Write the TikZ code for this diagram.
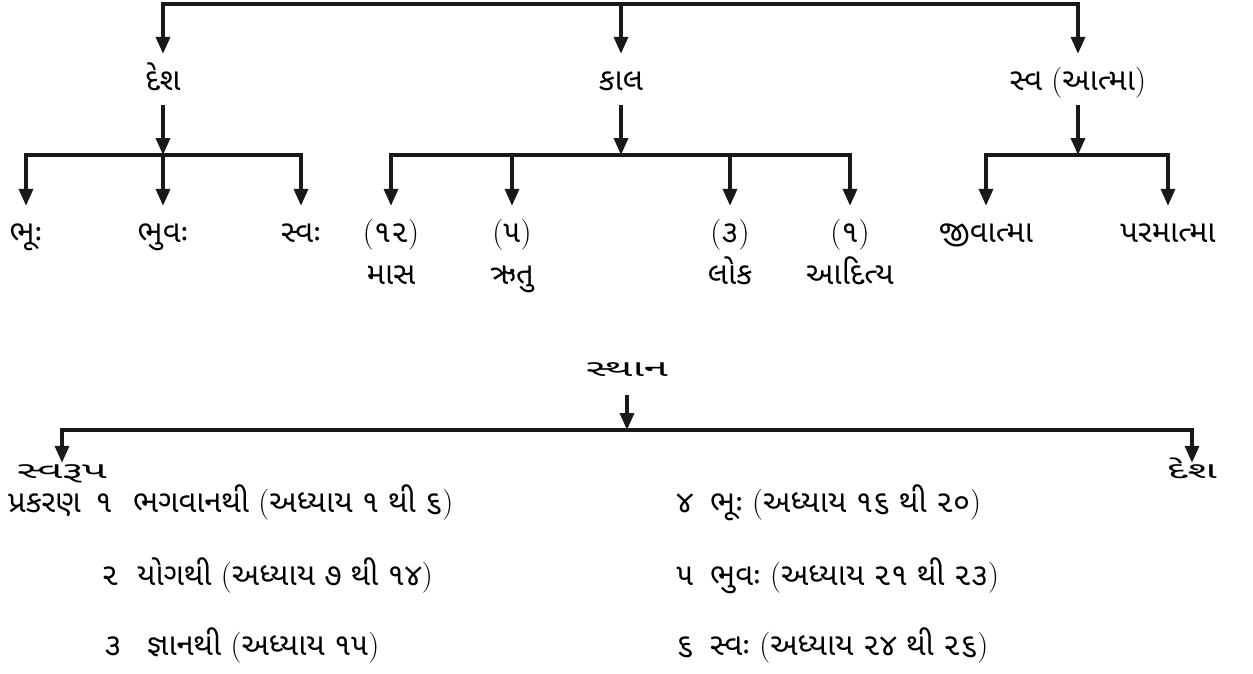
\documentclass[tikz,border=0pt]{standalone}
\usepackage{fontspec}
\newfontfamily\guj[Script=Gujarati]{Noto Sans Gujarati UI}
\newfontfamily\gujwide[Script=Gujarati,FakeStretch=1.9]{Noto Sans Gujarati UI}
\usetikzlibrary{arrows.meta}
\newcommand\lp{{\rmfamily(}}
\newcommand\rp{{\rmfamily)}}
\begin{document}
\begin{tikzpicture}[x=1pt,y=-1pt,
  conn/.style={line width=3.5pt, draw=black!90},
  arr/.style={conn, -{Triangle[length=17pt,width=14pt]}},
  gfont/.style={font=\guj\fontsize{31}{36}\selectfont, text height=19pt, text depth=5pt},
  lbl/.style={gfont, inner xsep=2pt, inner ysep=17pt},
  sub/.style={gfont, inner sep=0pt},
  small/.style={font=\gujwide\fontsize{23}{28}\selectfont, text height=13pt, text depth=4pt, inner xsep=1pt, inner ysep=2.5pt},
  row/.style={gfont, inner sep=0pt, anchor=west},
  num/.style={gfont, inner sep=0pt}
]
\useasboundingbox (0,0) rectangle (1253,673);

% level 1
\coordinate (top) at (621,4);
\node[lbl] (desh) at (163,83) {દેશ};
\node[lbl] (kal) at (621,83) {કાલ};
\node[lbl] (sva) at (1078,83) {સ્વ \lp{}આત્મા\rp{}};
\draw[arr] (top) -| (desh.north);
\draw[arr] (top) -| (sva.north);
\draw[arr] (top) -- (kal.north);

% level 2 junctions
\coordinate (dj) at (163,155);
\coordinate (kj) at (621,155);
\coordinate (sj) at (1078,155);
\draw[arr, shorten <=-7pt] (desh.south) -- (dj);
\draw[arr, shorten <=-7pt] (kal.south) -- (kj);
\draw[arr, shorten <=-7pt] (sva.south) -- (sj);

% children
\node[lbl] (bhu) at (26,235) {ભૂઃ};
\node[lbl] (bhuv) at (163,235) {ભુવઃ};
\node[lbl] (svah) at (301,235) {સ્વઃ};
\node[lbl] (n12) at (391,235) {\lp{}૧૨\rp{}};
\node[lbl] (n5) at (512,235) {\lp{}૫\rp{}};
\node[lbl] (n3) at (730,235) {\lp{}૩\rp{}};
\node[lbl] (n1) at (850,235) {\lp{}૧\rp{}};
\node[lbl] (jiv) at (986,235) {જીવાત્મા};
\node[lbl] (param) at (1168,235) {પરમાત્મા};
\node[sub] (mas) at (391,277) {માસ};
\node[sub] (ritu) at (512,277) {ઋતુ};
\node[sub] (lok) at (730,277) {લોક};
\node[sub] (adit) at (850,277) {આદિત્ય};

\draw[arr] (dj) -| (bhu.north);
\draw[arr] (dj) -| (svah.north);
\draw[arr] (dj) -- (bhuv.north);
\draw[arr] (kj) -| (n12.north);
\draw[arr] (kj) -| (n1.north);
\draw[arr] (kj) -| (n5.north);
\draw[arr] (kj) -| (n3.north);
\draw[arr] (sj) -| (jiv.north);
\draw[arr] (sj) -| (param.north);

% lower diagram
\node[small] (sthan) at (627,372) {સ્થાન};
\coordinate (bj) at (627,430);
\node[small] (svarup) at (62,474) {સ્વરૂપ};
\node[small] (desh2) at (1192,474) {દેશ};
\draw[arr, shorten <=12pt] (sthan.south) -- (bj);
\draw[arr] (bj) -| (svarup.north);
\draw[arr] (bj) -| (desh2.north);

% chapter list
\node[row] (prak) at (8,505) {પ્રકરણ};
\node[num] (i1) at (104,505) {૧};
\node[row] (c1) at (133,505) {ભગવાનથી \lp{}અધ્યાય ૧ થી ૬\rp{}};
\node[num] (i2) at (110,578) {૨};
\node[row] (c2) at (137,578) {યોગથી \lp{}અધ્યાય ૭ થી ૧૪\rp{}};
\node[num] (i3) at (113,648) {૩};
\node[row] (c3) at (147,648) {જ્ઞાનથી \lp{}અધ્યાય ૧૫\rp{}};
\node[num] (i4) at (685,505) {૪};
\node[row] (c4) at (710,505) {ભૂઃ \lp{}અધ્યાય ૧૬ થી ૨૦\rp{}};
\node[num] (i5) at (685,578) {૫};
\node[row] (c5) at (710,578) {ભુવઃ \lp{}અધ્યાય ૨૧ થી ૨૩\rp{}};
\node[num] (i6) at (685,648) {૬};
\node[row] (c6) at (710,648) {સ્વઃ \lp{}અધ્યાય ૨૪ થી ૨૬\rp{}};
\end{tikzpicture}
\end{document}
